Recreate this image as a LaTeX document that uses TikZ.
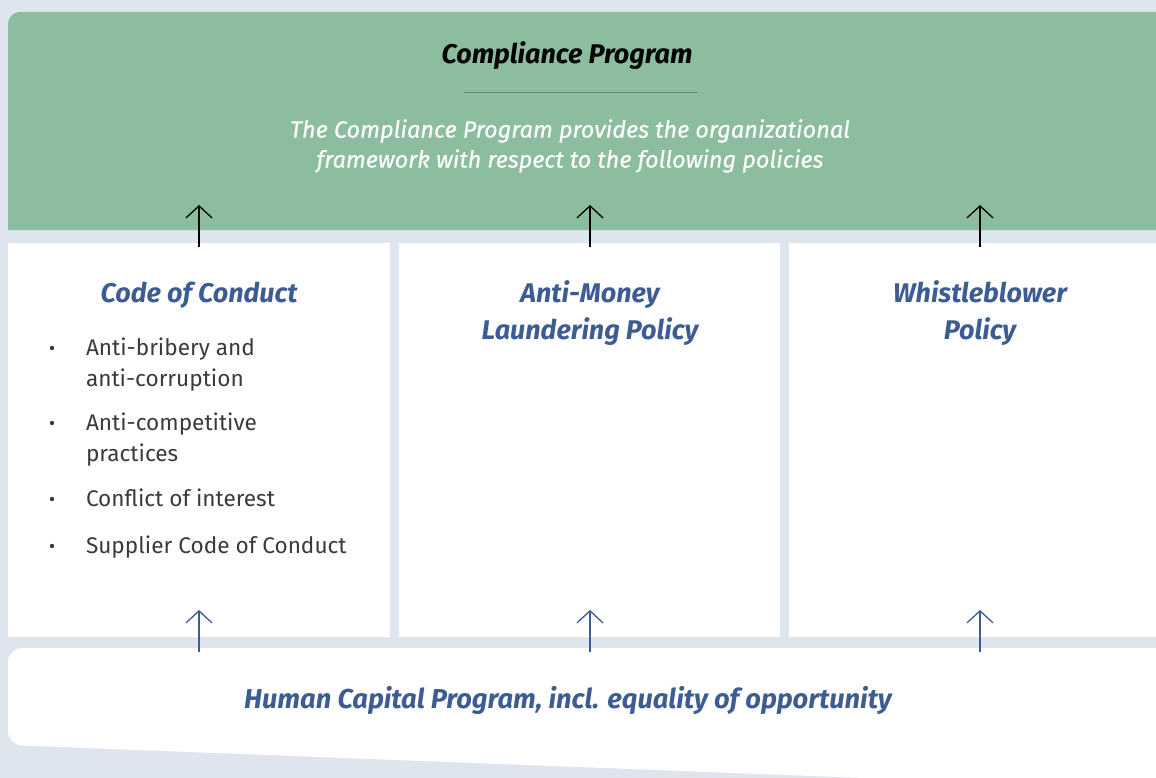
\documentclass[tikz,border=0pt]{standalone}
\usepackage{fontspec}
\setmainfont{Fira Sans}
\newfontfamily\medfont[FakeBold=0.5]{Fira Sans}
\usetikzlibrary{arrows.meta, calc}
\definecolor{pagebg}{HTML}{DFE5EF}
\definecolor{progreen}{HTML}{8BBD9E}
\definecolor{rulegreen}{HTML}{5E8E6E}
\definecolor{polblue}{HTML}{3D5C93}
\definecolor{bodygray}{HTML}{3A3A3A}
\begin{document}
\begin{tikzpicture}[x=1pt, y=-1pt]
\tikzset{every node/.style={inner sep=0pt, outer sep=0pt}, title/.style={font=\fontsize{27}{37}\selectfont\bfseries\itshape, align=center}, coltitle/.style={title, text=polblue}, upto/.style={-{Straight Barb[length=12pt, width=26pt]}, line width=1.3pt}, bulletline/.style={font=\fontsize{22.6}{31}\selectfont, text=bodygray, anchor=base west, align=left}}

% page and boxes
\fill [pagebg] (0,0) rectangle (1156,778);
\useasboundingbox (0,0) rectangle (1156,778);
\fill [progreen] (1156,230) -- (8,230) -- (8,24) arc (180:270:12) -- (1156,12) -- cycle;
\fill [white] (8,243) rectangle (390,637);
\fill [white] (399,243) rectangle (780,637);
\fill [white] (789,243) rectangle (1156,637);
\fill [white, rounded corners=14pt] (1156,648) -- (8,648) -- (8,745) -- (890,779) [sharp corners] -- (1156,779) -- cycle;

% compliance program
\node [title] (CP) at (567,56) {Compliance Program};
\draw [rulegreen, line width=1pt] (464,93) -- (698,93);
\node [font=\fontsize{23.5}{30}\selectfont\medfont\itshape, text=white, align=center] (CPtext) at (570,146) {The Compliance Program provides the organizational\\framework with respect to the following policies};

% the three policies
\node [coltitle] (CC) at (199,295) {Code of Conduct};
\node [coltitle] (AML) at (590,313) {Anti-Money\\Laundering Policy};
\node [coltitle] (WB) at (980,313) {Whistleblower\\Policy};

\node [bulletline] (b1) at (86,386) {Anti-bribery and\\anti-corruption};
\node [bulletline] (b2) at (86,461) {Anti-competitive\\practices};
\node [bulletline] (b3) at (86,506) {Conflict of interest};
\node [bulletline] (b4) at (86,553) {Supplier Code of Conduct};
\foreach \y in {348, 423, 499, 546}
  \fill [bodygray] (52,\y) circle (2.2pt);

% human capital program
\node [coltitle, font=\fontsize{27.3}{32}\selectfont\bfseries\itshape] (HC) at (568,700) {Human Capital Program, incl. equality of opportunity};

% arrows into the compliance program
\coordinate (CCtop) at (199,247);
\coordinate (AMLtop) at (590,247);
\coordinate (WBtop) at (980,247);
\coordinate (CCin) at (199,205);
\coordinate (AMLin) at (590,205);
\coordinate (WBin) at (980,205);
\draw [upto] (CCtop) -- (CCin);
\draw [upto] (AMLtop) -- (AMLin);
\draw [upto] (WBtop) -- (WBin);

% arrows from the human capital program
\coordinate (HCcc) at (199,652);
\coordinate (HCaml) at (590,652);
\coordinate (HCwb) at (980,652);
\coordinate (CCbot) at (199,610);
\coordinate (AMLbot) at (590,610);
\coordinate (WBbot) at (980,610);
\draw [upto, polblue] (HCcc) -- (CCbot);
\draw [upto, polblue] (HCaml) -- (AMLbot);
\draw [upto, polblue] (HCwb) -- (WBbot);

\end{tikzpicture}
\end{document}
